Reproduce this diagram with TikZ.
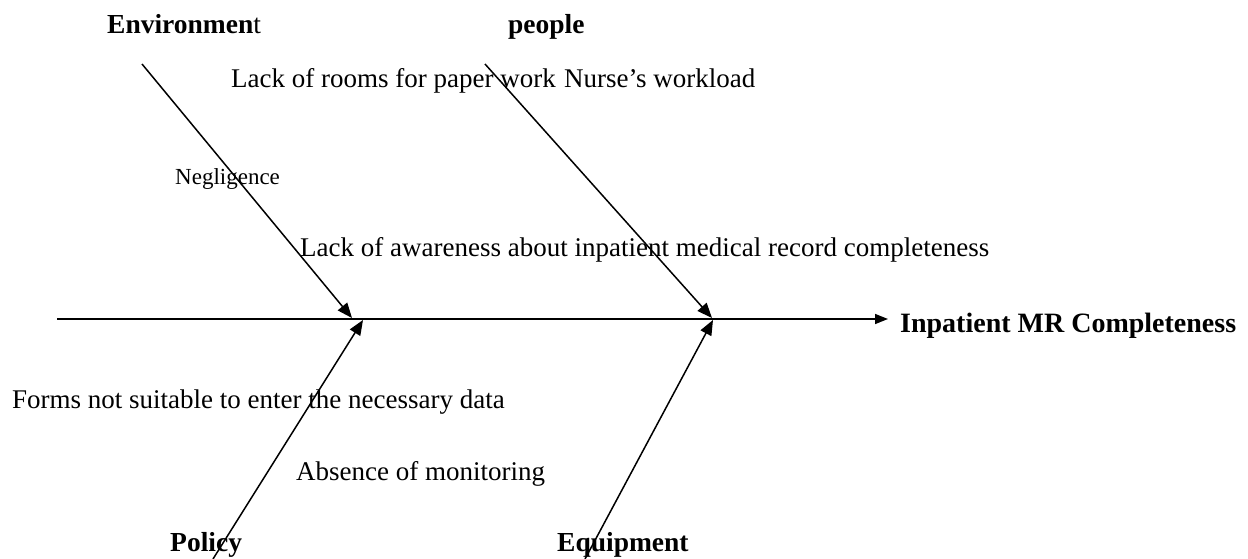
\documentclass[tikz,border=0pt]{standalone}
\usepackage{fontspec}
\setmainfont{Liberation Serif}
\usetikzlibrary{arrows.meta}
\tikzset{
  lbl/.style={inner sep=0pt, anchor=base west, font=\fontsize{27.5}{30}\selectfont\bfseries},
  txt/.style={inner sep=0pt, anchor=base west, font=\fontsize{27}{30}\selectfont},
  small/.style={inner sep=0pt, anchor=base west, font=\fontsize{23}{26}\selectfont},
  arr/.style={line width=1.5pt, -{Triangle[length=15pt,width=12pt]}},
  spine/.style={line width=1.5pt, -{Triangle[length=13pt,width=10pt]}},
}
\begin{document}
\begin{tikzpicture}[x=1pt,y=-1pt]
\useasboundingbox (0,0) rectangle (1248,559);
% labels
\node[lbl] (env) at (107,34) {Environmen\mdseries t};
\node[lbl] (ppl) at (508,34) {people};
\node[txt] (rooms) at (231,88) {Lack of rooms for paper work};
\node[txt] (nurse) at (564,88) {Nurse’s workload};
\node[small] (negl) at (175,184) {Negligence};
\node[txt] (aware) at (300,256) {Lack of awareness about inpatient medical record completeness};
\node[inner sep=0pt, anchor=base west, font=\fontsize{28}{32}\selectfont\bfseries] (effect) at (900,332) {Inpatient MR Completeness};
\node[txt] (forms) at (12,408) {Forms not suitable to enter the necessary data};
\node[txt] (absence) at (296,480) {Absence of monitoring};
\node[lbl] (policy) at (170,551) {Policy};
\node[lbl] (equip) at (557,551) {Equipment};
% coordinates
\coordinate (s0) at (57,319);
\coordinate (j1) at (352,318);
\coordinate (j2) at (712,318);
\coordinate (k1) at (363,320);
\coordinate (k2) at (713,320);
\coordinate (e0) at (142,64);
\coordinate (p0) at (485,64);
\coordinate (po0) at (213,559);
\coordinate (eq0) at (585,559);
\coordinate (tip) at (888,319);
% spine
\draw[spine] (s0) -- (tip);
% branches
\draw[arr] (e0) -- (j1);
\draw[arr] (p0) -- (j2);
\draw[arr] (po0) -- (k1);
\draw[arr] (eq0) -- (k2);
\end{tikzpicture}
\end{document}
